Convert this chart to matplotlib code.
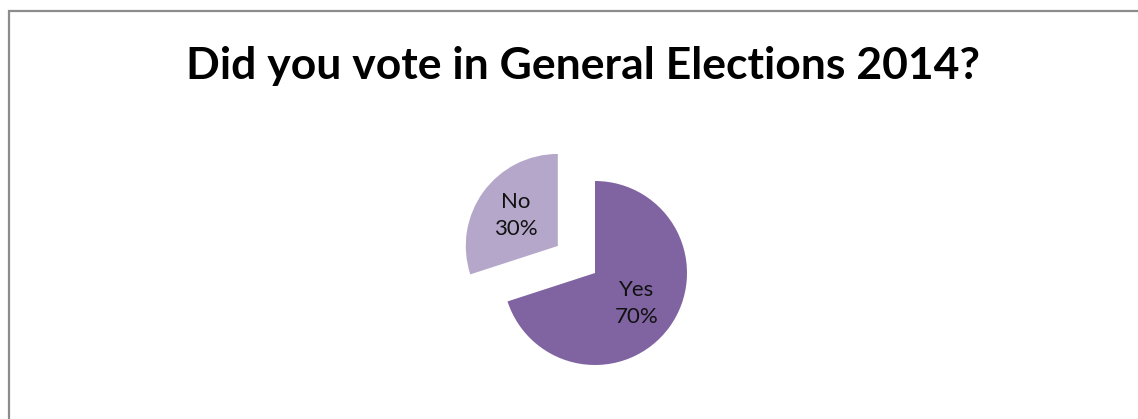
import matplotlib.pyplot as plt
from matplotlib.patches import Rectangle

categories = ['Yes', 'No']
shares = [70, 30]
colors = ['#8064A2', '#B5A7CA']
title = 'Did you vote in General Elections 2014?'

W, H = 1138, 419
fig = plt.figure(figsize=(W / 100, H / 100), dpi=100)
ax = fig.add_axes([0, 0, 1, 1])

# pie in data units of one radius; centre sits at (595, 273) px
R = 92
cx, cy = 595, 273
labels = [f'{c}\n{v}%' for c, v in zip(categories, shares)]
wedges, texts = ax.pie(shares, colors=colors, startangle=90, counterclock=False,
                       explode=[0, 0.5], radius=1, labels=labels,
                       labeldistance=0.56,
                       textprops=dict(fontsize=16, family='Lato', color='#111111',
                                      ha='center', va='center', linespacing=1.45))
ax.set_xlim(-cx / R, (W - cx) / R)
ax.set_ylim(-(H - cy) / R, cy / R)
ax.set_aspect('auto')
ax.axis('off')

# chart frame, runs off the right and bottom edges
fig.patches.append(Rectangle((9 / W, -0.1), 1.2, (H - 11) / H + 0.1,
                             transform=fig.transFigure, fill=False,
                             edgecolor='#8c8c8c', linewidth=1.6))

fig.text(583 / W, 1 - 66 / H, title, ha='center', va='center',
         fontsize=32, fontweight='bold', family='Lato', color='black')

fig.savefig('out.png', dpi=100)
